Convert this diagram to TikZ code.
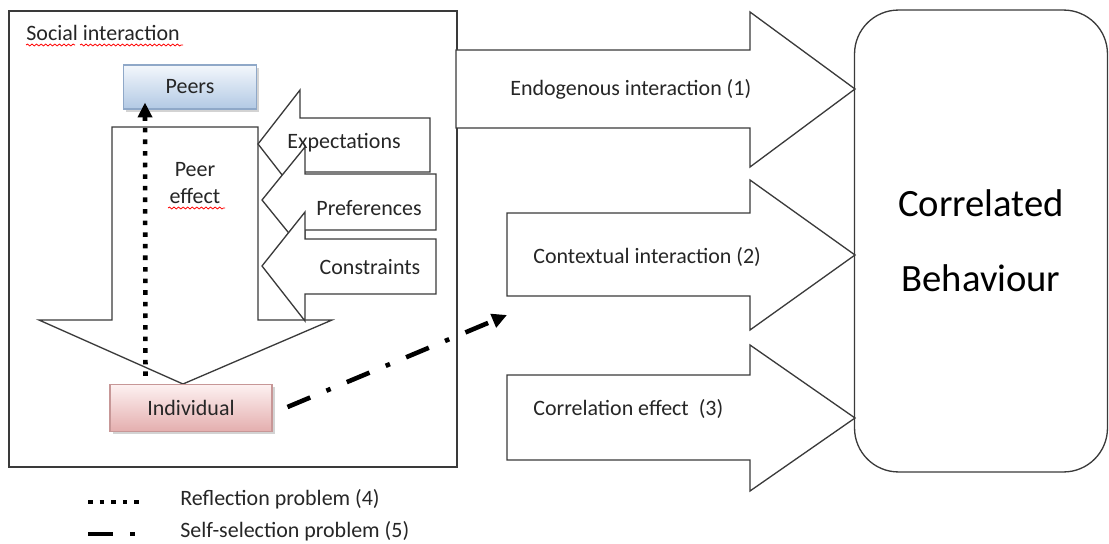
\documentclass[tikz,border=0pt]{standalone}
\usepackage{fontspec}
\setmainfont{Carlito}
\usetikzlibrary{arrows.meta,shadows,decorations.pathmorphing}
\definecolor{LineGray}{HTML}{3A3A3A}
\definecolor{TextGray}{HTML}{262626}
\definecolor{PeerTop}{HTML}{F3F7FC}
\definecolor{PeerBot}{HTML}{B2C9E4}
\definecolor{PeerLine}{HTML}{8FA8C8}
\definecolor{IndTop}{HTML}{FDF1F1}
\definecolor{IndBot}{HTML}{E4AEAE}
\definecolor{IndLine}{HTML}{C79797}

\tikzset{
  frame/.style={draw=LineGray, line width=0.75pt},
  blockarrow/.style={draw=LineGray, fill=white, line width=0.75pt, line join=miter},
  gradbox/.style={draw, line width=0.6pt, inner sep=0pt,
    drop shadow={shadow xshift=1.6pt, shadow yshift=-1.6pt, opacity=0.35}},
  peerbox/.style={gradbox, draw=PeerLine, top color=PeerTop, bottom color=PeerBot,
    minimum width=2.66cm, minimum height=0.88cm},
  indbox/.style={gradbox, draw=IndLine, top color=IndTop, bottom color=IndBot,
    minimum width=3.24cm, minimum height=0.94cm},
  behavbox/.style={draw=LineGray, line width=0.75pt, rounded corners=25pt,
    minimum width=5.06cm, minimum height=9.24cm, align=center, text=black,
    font=\fontsize{22}{42.5}\selectfont},
  dotline/.style={line width=2.6pt, dash pattern=on 2.6pt off 4pt, black},
  dashdotline/.style={line width=2.6pt, dash pattern=on 14pt off 10pt on 2.6pt off 10pt, black},
  reflect/.style={dotline, -{Triangle[length=8.5pt,width=8pt]}},
  selfsel/.style={dashdotline, -{Triangle[length=8.5pt,width=8pt]}},
  spell/.style={draw=red, line width=0.45pt, decorate,
    decoration={snake, amplitude=0.55pt, segment length=2.6pt}}
}

\begin{document}
\begin{tikzpicture}[x=0.02cm, y=-0.02cm, font=\fontsize{12.5}{15.3}\selectfont, text=TextGray]
\useasboundingbox (0,0) rectangle (1109,544);

% social interaction frame
\draw[frame] (9,11) rectangle (457,467);
\node[anchor=west, inner sep=0pt] (social) at (26,33) {Social interaction};
\draw[spell] (26,45) -- (75,45);
\draw[spell] (80,45) -- (183,45);

% arrows towards the behaviour
\filldraw[blockarrow] (456,50) -- (750,50) -- (750,12) -- (855,89) -- (750,167) -- (750,128) -- (456,128) -- cycle;
\filldraw[blockarrow] (507,213) -- (750,213) -- (750,180) -- (855,255) -- (750,330) -- (750,296) -- (507,296) -- cycle;
\filldraw[blockarrow] (507,375) -- (750,375) -- (750,345) -- (855,418) -- (750,491) -- (750,460) -- (507,460) -- cycle;
\node[anchor=west, inner sep=0pt] (endo) at (510,89) {Endogenous interaction (1)};
\node[anchor=west, inner sep=0pt] (context) at (533,257) {Contextual interaction (2)};
\node[anchor=west, inner sep=0pt] (correl) at (533,409) {Correlation effect~~(3)};

% peer effect arrow
\filldraw[blockarrow] (112,127) -- (258,127) -- (258,320) -- (332,320) -- (183,384) -- (39,320) -- (112,320) -- cycle;

% expectations, preferences, constraints
\filldraw[blockarrow] (258,144) -- (300,90) -- (300,118) -- (430,118) -- (430,172) -- (300,172) -- (300,198) -- cycle;
\filldraw[blockarrow] (262,200) -- (305,147) -- (305,174) -- (436,174) -- (436,230) -- (305,230) -- (305,253) -- cycle;
\filldraw[blockarrow] (262,266) -- (305,212) -- (305,239) -- (436,239) -- (436,294) -- (305,294) -- (305,321) -- cycle;
\node (expect) at (344,143) {Expectations};
\node (prefer) at (369,208) {Preferences};
\node (constr) at (370,267) {Constraints};

\node[align=center] (peereff) at (195,183) {Peer\\effect};
\draw[spell] (168,208) -- (225,208);

% peers and individual
\node[peerbox] (peers) at (190,87) {Peers};
\node[indbox] (indiv) at (191,408) {Individual};

% correlated behaviour
\node[behavbox] (behav) at (981,241) {Correlated\\Behaviour};

% problems
\coordinate (selfend) at (507,315);
\draw[reflect] ([shift={(36,-8)}]indiv.north west) -- ([shift={(22,-7)}]peers.south west);
\draw[selfsel] ([shift={(15,-1)}]indiv.east) -- (selfend);

% legend
\draw[dotline] (88,502) -- (143,502);
\node[anchor=base west, inner sep=0pt] (refltxt) at (180,505) {Reflection problem (4)};
\draw[dashdotline] (88,534) -- (138,534);
\node[anchor=base west, inner sep=0pt] (selftxt) at (180,537) {Self-selection problem (5)};
\end{tikzpicture}
\end{document}
